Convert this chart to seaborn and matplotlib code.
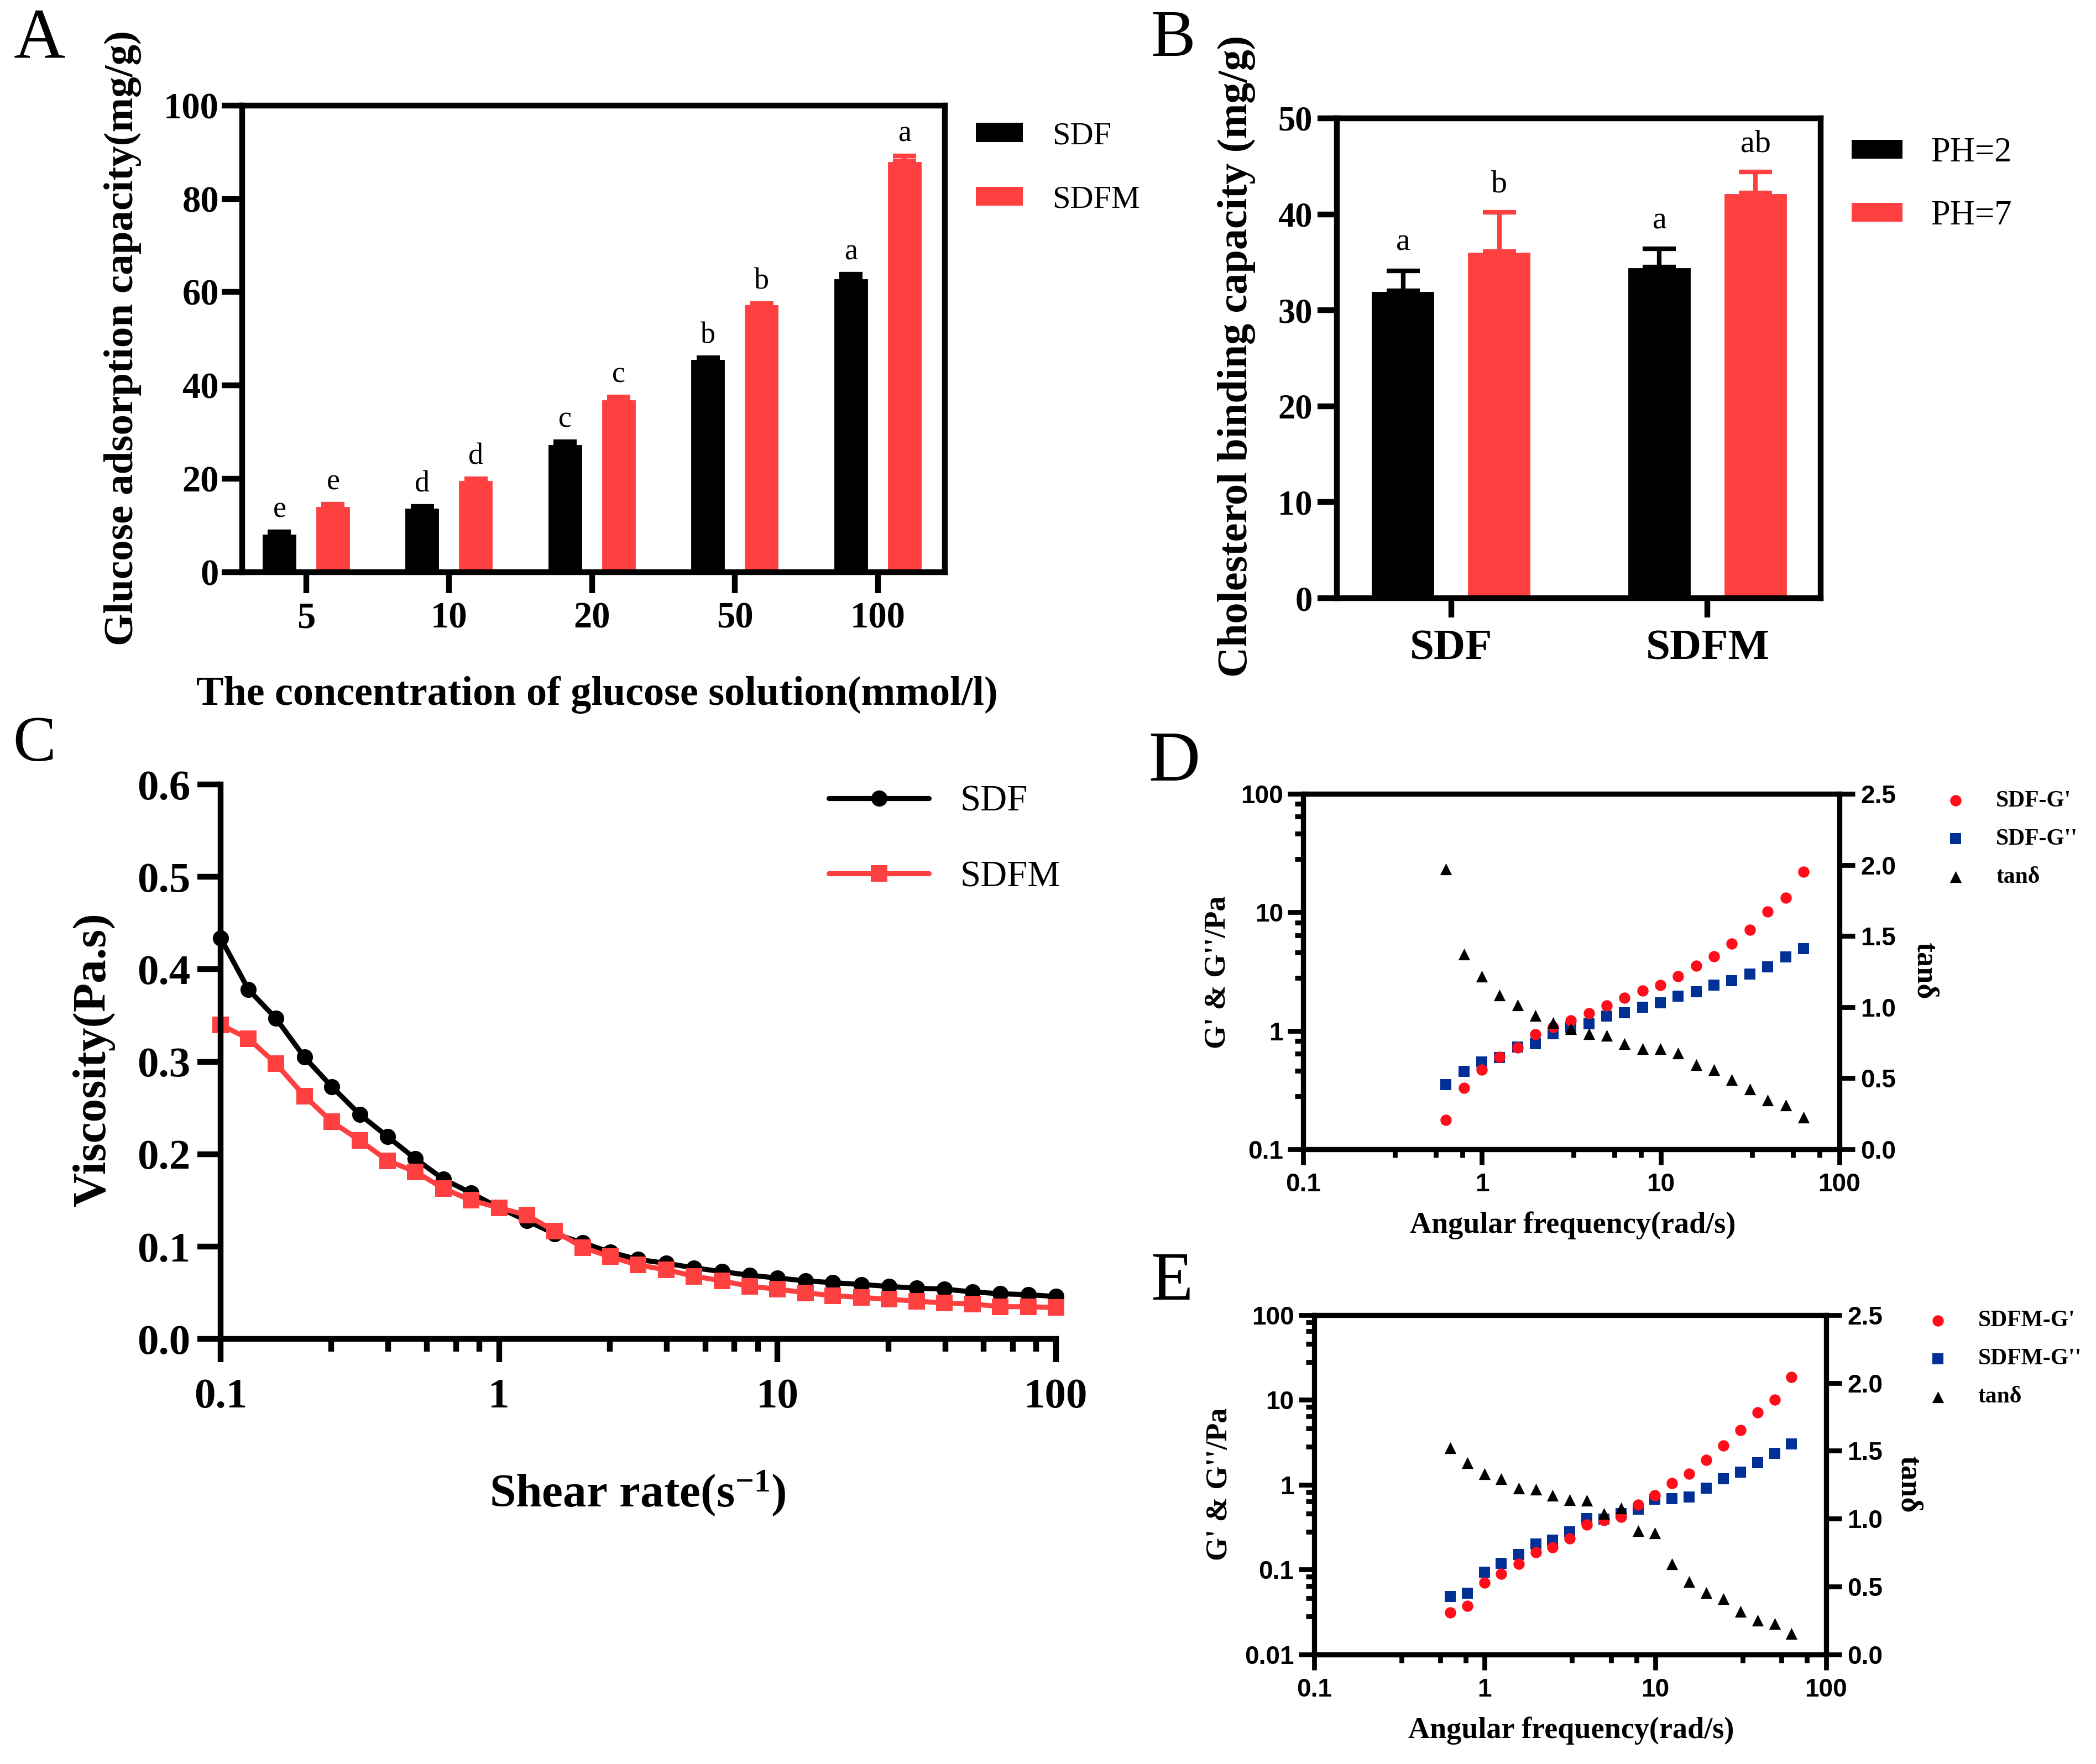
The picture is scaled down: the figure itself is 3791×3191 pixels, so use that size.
import matplotlib
matplotlib.use("Agg")
import matplotlib.pyplot as plt
import numpy as np
import pandas as pd
import seaborn as sns
from matplotlib.patches import Patch
from matplotlib.ticker import NullFormatter

# ---------------- data ----------------
conc_labels = ["5", "10", "20", "50", "100"]
glu_sdf = [8.3, 13.8, 27.5, 45.7, 63.0]
glu_sdf_err = [0.3, 0.3, 0.4, 0.2, 0.8]
glu_sdfm = [14.2, 19.8, 37.0, 57.4, 88.2]
glu_sdfm_err = [0.3, 0.2, 0.5, 0.2, 1.0]
glu_sdf_sig = ["e", "d", "c", "b", "a"]
glu_sdfm_sig = ["e", "d", "c", "b", "a"]

chol_groups = ["SDF", "SDFM"]
chol_ph2 = [32.0, 34.5]
chol_ph2_err = [2.1, 1.9]
chol_ph7 = [36.1, 42.2]
chol_ph7_err = [4.1, 2.2]
chol_ph2_sig = ["a", "a"]
chol_ph7_sig = ["b", "ab"]

shear_rate = [0.1, 0.126, 0.158, 0.2, 0.251, 0.316, 0.398, 0.501, 0.631, 0.794,
              1.0, 1.26, 1.58, 2.0, 2.51, 3.16, 3.98, 5.01, 6.31, 7.94,
              10.0, 12.6, 15.8, 20.0, 25.1, 31.6, 39.8, 50.1, 63.1, 79.4, 100.0]
visc_sdf = [0.434, 0.378, 0.347, 0.305, 0.273, 0.243, 0.219, 0.195, 0.173, 0.158,
            0.142, 0.128, 0.114, 0.104, 0.094, 0.086, 0.082, 0.077, 0.073, 0.069,
            0.066, 0.063, 0.061, 0.059, 0.057, 0.055, 0.054, 0.051, 0.049, 0.048, 0.046]
visc_sdfm = [0.340, 0.325, 0.298, 0.263, 0.235, 0.215, 0.193, 0.181, 0.163, 0.150,
             0.142, 0.134, 0.117, 0.099, 0.089, 0.080, 0.075, 0.068, 0.063, 0.057,
             0.054, 0.050, 0.047, 0.045, 0.043, 0.041, 0.039, 0.038, 0.035, 0.035, 0.034]

freq = [0.628, 0.791, 0.996, 1.25, 1.58, 1.99, 2.50, 3.15, 3.97, 5.00, 6.28,
        7.91, 9.96, 12.5, 15.8, 19.9, 25.0, 31.5, 39.7, 50.0, 62.8]
sdf_g1 = [0.177, 0.33, 0.469, 0.60, 0.72, 0.93, 1.07, 1.22, 1.41, 1.63, 1.90,
          2.18, 2.44, 2.87, 3.53, 4.27, 5.43, 7.14, 10.1, 13.3, 21.9]
sdf_g2 = [0.352, 0.456, 0.544, 0.596, 0.73, 0.78, 0.946, 1.06, 1.15, 1.33, 1.42,
          1.58, 1.72, 1.96, 2.14, 2.44, 2.64, 3.02, 3.48, 4.18, 4.96]
sdf_tan = [1.97, 1.373, 1.215, 1.085, 1.014, 0.939, 0.889, 0.849, 0.814, 0.802, 0.743,
           0.708, 0.708, 0.677, 0.594, 0.559, 0.488, 0.425, 0.347, 0.311, 0.224]
sdfm_g1 = [0.031, 0.0375, 0.0697, 0.0896, 0.117, 0.161, 0.184, 0.232, 0.339, 0.384, 0.42,
           0.58, 0.746, 1.05, 1.34, 1.97, 2.87, 4.39, 7.13, 10.1, 18.6]
sdfm_g2 = [0.048, 0.053, 0.093, 0.118, 0.151, 0.201, 0.222, 0.278, 0.398, 0.391, 0.459,
           0.512, 0.67, 0.689, 0.714, 0.91, 1.18, 1.41, 1.82, 2.36, 3.04]
sdfm_tan = [1.52, 1.41, 1.33, 1.295, 1.224, 1.215, 1.171, 1.141, 1.134, 1.039, 1.08,
            0.91, 0.893, 0.666, 0.537, 0.454, 0.41, 0.317, 0.251, 0.227, 0.154]

# ---------------- style ----------------
BLACK = "#000000"
RED_BAR = "#FF4040"
RED_PT = "#FF0D1A"
BLUE_PT = "#002F96"
SERIF = ["Liberation Serif", "DejaVu Serif"]
SANS = "Liberation Sans"

sns.set_theme(style="ticks")
plt.rcParams["font.family"] = SERIF
plt.rcParams["font.serif"] = SERIF
plt.rcParams["font.weight"] = "bold"
plt.rcParams["axes.labelweight"] = "bold"
plt.rcParams["mathtext.default"] = "regular"
plt.rcParams["axes.edgecolor"] = "black"
plt.rcParams["xtick.color"] = "black"
plt.rcParams["ytick.color"] = "black"
plt.rcParams["text.color"] = "black"

W, H, DPI = 3791, 3191, 300
fig = plt.figure(figsize=(W / DPI, H / DPI), dpi=DPI)
fig.patch.set_facecolor("white")


def rect(x0, y0, x1, y1):
    # thumbnail coordinates (1568 x 1320) -> figure fraction
    return [x0 / 1568, 1 - y1 / 1320, (x1 - x0) / 1568, (y1 - y0) / 1320]


def spines(ax, lw, visible=("left", "bottom", "top", "right")):
    for name, s in ax.spines.items():
        s.set_visible(name in visible)
        s.set_linewidth(lw)
        s.set_color("black")


NORMAL = {"family": SERIF, "weight": "normal"}

# ---------------- Panel A ----------------
axA = fig.add_axes(rect(181, 79, 707, 428))
dfA = pd.DataFrame({"conc": conc_labels * 2,
                    "value": glu_sdf + glu_sdfm,
                    "sample": ["SDF"] * 5 + ["SDFM"] * 5})
sns.barplot(data=dfA, x="conc", y="value", hue="sample", order=conc_labels,
            hue_order=["SDF", "SDFM"], palette=[BLACK, RED_BAR], width=0.75, gap=0.33,
            errorbar=None, saturation=1, legend=False, ax=axA, zorder=2)
barsA = sorted(axA.patches, key=lambda p: p.get_x())
valsA = [glu_sdf, glu_sdfm]
errsA = [glu_sdf_err, glu_sdfm_err]
sigsA = [glu_sdf_sig, glu_sdfm_sig]
colsA = [BLACK, RED_BAR]
for i, p in enumerate(barsA):
    k, s = i // 2, i % 2
    cx = p.get_x() + p.get_width() / 2
    v, e = valsA[s][k], errsA[s][k]
    axA.errorbar(cx, v, yerr=[[0], [e]], fmt="none", ecolor=colsA[s], elinewidth=2,
                 capsize=5, capthick=2, zorder=3)
    axA.annotate(sigsA[s][k], (cx, v + e), xytext=(0, 3.5), textcoords="offset points",
                 ha="center", va="bottom", fontsize=13, **NORMAL)
axA.set_xlim(-0.45, 4.47)
axA.set_ylim(0, 100)
axA.set_yticks(range(0, 101, 20))
axA.set_xlabel("")
axA.set_ylabel("")
spines(axA, 2.5)
axA.tick_params(axis="both", direction="out", length=9, width=2.5, labelsize=16)
axA.tick_params(axis="x", pad=4)
axA.tick_params(axis="y", pad=1)
axA.legend(handles=[Patch(facecolor=BLACK, edgecolor="none"),
                    Patch(facecolor=RED_BAR, edgecolor="none")],
           labels=["SDF", "SDFM"], loc="upper left", bbox_to_anchor=(0.4656, 0.931),
           bbox_transform=fig.transFigure, frameon=False,
           prop={"family": SERIF, "size": 14, "weight": "normal"},
           handlelength=1.46, handleheight=0.53, handletextpad=0.91, labelspacing=1.09,
           borderpad=0, borderaxespad=0)
fig.text(0.0586, 0.8082, "Glucose adsorption capacity(mg/g)", rotation=90,
         ha="center", va="center", fontsize=18, weight="bold")
fig.text(0.2849, 0.6004, "The concentration of glucose solution(mmol/l)",
         ha="center", va="baseline", fontsize=17.8, weight="bold")

# ---------------- Panel B ----------------
axB = fig.add_axes(rect(1000, 88.5, 1362, 447.6))
dfB = pd.DataFrame({"group": chol_groups * 2,
                    "value": chol_ph2 + chol_ph7,
                    "ph": ["PH=2"] * 2 + ["PH=7"] * 2})
sns.barplot(data=dfB, x="group", y="value", hue="ph", order=chol_groups,
            hue_order=["PH=2", "PH=7"], palette=[BLACK, RED_BAR], width=0.75, gap=0.33,
            errorbar=None, saturation=1, legend=False, ax=axB, zorder=2)
barsB = sorted(axB.patches, key=lambda p: p.get_x())
valsB = [chol_ph2, chol_ph7]
errsB = [chol_ph2_err, chol_ph7_err]
sigsB = [chol_ph2_sig, chol_ph7_sig]
for i, p in enumerate(barsB):
    k, s = i // 2, i % 2
    cx = p.get_x() + p.get_width() / 2
    v, e = valsB[s][k], errsB[s][k]
    axB.errorbar(cx, v, yerr=[[0], [e]], fmt="none", ecolor=colsA[s], elinewidth=2,
                 capsize=7.3, capthick=2, zorder=3)
    axB.annotate(sigsB[s][k], (cx, v + e), xytext=(0, 6), textcoords="offset points",
                 ha="center", va="bottom", fontsize=14, **NORMAL)
axB.set_xlim(-0.446, 1.441)
axB.set_ylim(0, 50)
axB.set_yticks(range(0, 51, 10))
axB.set_xlabel("")
axB.set_ylabel("")
spines(axB, 2.5)
axB.tick_params(axis="both", direction="out", length=8.5, width=2.5)
axB.tick_params(axis="x", pad=5, labelsize=19)
axB.tick_params(axis="y", pad=2, labelsize=15)
axB.legend(handles=[Patch(facecolor=BLACK, edgecolor="none"),
                    Patch(facecolor=RED_BAR, edgecolor="none")],
           labels=["PH=2", "PH=7"], loc="upper left", bbox_to_anchor=(0.8834, 0.9223),
           bbox_transform=fig.transFigure, frameon=False,
           prop={"family": SERIF, "size": 15, "weight": "normal"},
           handlelength=1.47, handleheight=0.47, handletextpad=0.83, labelspacing=0.9,
           borderpad=0, borderaxespad=0)
fig.text(0.5898, 0.7982, "Cholesterol binding capacity (mg/g)", rotation=90,
         ha="center", va="center", fontsize=18.3, weight="bold")

# ---------------- Panel C ----------------
axC = fig.add_axes(rect(165, 587, 790, 1002))
dfC = pd.DataFrame({"rate": shear_rate * 2,
                    "visc": visc_sdf + visc_sdfm,
                    "sample": ["SDF"] * len(shear_rate) + ["SDFM"] * len(shear_rate)})
sns.lineplot(data=dfC, x="rate", y="visc", hue="sample", style="sample",
             hue_order=["SDF", "SDFM"], style_order=["SDF", "SDFM"],
             palette=[BLACK, RED_BAR], markers={"SDF": "o", "SDFM": "s"}, dashes=False,
             linewidth=2.2, markersize=7, markeredgewidth=0, legend=False, ax=axC)
for ln in axC.lines:
    ln.set_clip_on(False)
axC.set_xscale("log")
axC.set_xlim(0.1, 100)
axC.set_ylim(0, 0.6)
axC.set_yticks([0, 0.1, 0.2, 0.3, 0.4, 0.5, 0.6],
               labels=["0.0", "0.1", "0.2", "0.3", "0.4", "0.5", "0.6"])
axC.set_xticks([0.1, 1, 10, 100], labels=["0.1", "1", "10", "100"])
axC.set_xticks([0.25, 0.4, 0.55, 0.7, 0.85, 2.5, 4, 5.5, 7, 8.5,
                25, 40, 55, 70, 85], minor=True)
axC.xaxis.set_minor_formatter(NullFormatter())
axC.set_xlabel("")
axC.set_ylabel("")
spines(axC, 2.5, visible=("left", "bottom"))
axC.tick_params(axis="both", which="major", direction="out", length=10, width=2.5,
                labelsize=18.5)
axC.tick_params(axis="x", which="minor", direction="out", length=5.5, width=2.5)
axC.tick_params(axis="x", which="major", pad=7)
axC.tick_params(axis="y", pad=3)
axC.legend(handles=axC.lines[:2], labels=["SDF", "SDFM"], loc="upper left",
           bbox_to_anchor=(0.3954, 0.555), bbox_transform=fig.transFigure,
           frameon=False, prop={"family": SERIF, "size": 16, "weight": "normal"},
           handlelength=2.72, handletextpad=0.84, labelspacing=1.13, numpoints=1,
           borderpad=0, borderaxespad=0)
fig.text(0.0448, 0.3995, "Viscosity(Pa.s)", rotation=90, ha="center", va="center",
         fontsize=20.5, weight="bold")
fig.text(0.3043, 0.1460, "Shear rate(s$^{-1}$)", ha="center", va="baseline",
         fontsize=20.5, weight="bold")


# ---------------- Panels D and E ----------------
def rheo_panel(box, g1, g2, tan, names, ymin, yticks, ylabels, leg_anchor, ylab_pos,
               tan_pos, xlab_pos):
    ax = fig.add_axes(rect(*box))
    sns.scatterplot(x=freq, y=g2, marker="s", color=BLUE_PT, s=22, linewidth=0,
                    ax=ax, label=names[1], zorder=3)
    sns.scatterplot(x=freq, y=g1, marker="o", color=RED_PT, s=24, linewidth=0,
                    ax=ax, label=names[0], zorder=4)
    ax.set_xscale("log")
    ax.set_yscale("log")
    ax.set_xlim(0.1, 100)
    ax.set_ylim(ymin, 100)
    ax.set_xticks([0.1, 1, 10, 100], labels=["0.1", "1", "10", "100"])
    ax.set_xticks([0.325, 0.55, 0.775, 3.25, 5.5, 7.75, 32.5, 55, 77.5], minor=True)
    ax.set_yticks(yticks, labels=ylabels)
    yminor = [m for m in [0.028, 0.046, 0.064, 0.082, 0.28, 0.46, 0.64, 0.82,
                          2.8, 4.6, 6.4, 8.2, 28, 46, 64, 82] if m > ymin]
    ax.set_yticks(yminor, minor=True)
    ax.xaxis.set_minor_formatter(NullFormatter())
    ax.yaxis.set_minor_formatter(NullFormatter())
    ax.set_xlabel("")
    ax.set_ylabel("")
    spines(ax, 2.2)
    ax.tick_params(axis="both", which="major", direction="out", length=6.7, width=2.1,
                   labelsize=11, labelfontfamily=SANS)
    ax.tick_params(axis="both", which="minor", direction="out", length=3.5, width=2.1)
    ax.tick_params(axis="x", which="major", pad=3.5)
    ax.tick_params(axis="y", which="major", pad=2)
    ax.tick_params(top=False, right=False, which="both")
    if ax.get_legend() is not None:
        ax.get_legend().remove()

    axT = ax.twinx()
    sns.scatterplot(x=freq, y=tan, marker="^", color=BLACK, s=26, linewidth=0,
                    ax=axT, label=names[2], zorder=5)
    axT.set_ylim(0, 2.5)
    axT.set_yticks([0, 0.5, 1.0, 1.5, 2.0, 2.5],
                   labels=["0.0", "0.5", "1.0", "1.5", "2.0", "2.5"])
    axT.set_ylabel("")
    spines(axT, 2.2)
    axT.tick_params(axis="y", which="major", direction="out", length=6.7, width=2.1,
                    labelsize=11, labelfontfamily=SANS, pad=2.5)
    if axT.get_legend() is not None:
        axT.get_legend().remove()

    h1, l1 = ax.get_legend_handles_labels()
    h2, l2 = axT.get_legend_handles_labels()
    hd = dict(zip(l1 + l2, h1 + h2))
    axT.legend([hd[n] for n in names], names, loc="upper left", bbox_to_anchor=leg_anchor,
               bbox_transform=fig.transFigure, frameon=False,
               prop={"family": SERIF, "size": 10, "weight": "bold"},
               handlelength=1.5, handletextpad=1.0, labelspacing=0.74, markerscale=1.0,
               borderpad=0, borderaxespad=0)
    fig.text(ylab_pos[0], ylab_pos[1], "G' & G''/Pa", rotation=90, ha="center",
             va="center", fontsize=13, weight="bold")
    fig.text(tan_pos[0], tan_pos[1], "tanδ", rotation=270, ha="center", va="center",
             fontsize=13, weight="bold")
    fig.text(xlab_pos[0], xlab_pos[1], "Angular frequency(rad/s)", ha="center",
             va="baseline", fontsize=13, weight="bold")
    return ax, axT


rheo_panel((975, 594, 1376, 860), sdf_g1, sdf_g2, sdf_tan,
           ["SDF-G'", "SDF-G''", "tanδ"], 0.1, [0.1, 1, 10, 100],
           ["0.1", "1", "10", "100"], (0.9248, 0.552), (0.5811, 0.4488),
           (0.918, 0.4497), (0.7505, 0.3012))
rheo_panel((983, 984, 1366, 1238), sdfm_g1, sdfm_g2, sdfm_tan,
           ["SDFM-G'", "SDFM-G''", "tanδ"], 0.01, [0.01, 0.1, 1, 10, 100],
           ["0.01", "0.1", "1", "10", "100"], (0.9163, 0.2572), (0.5818, 0.1586),
           (0.9105, 0.1586), (0.7495, 0.0147))

# ---------------- panel letters ----------------
for letter, x, y, fs in [("A", 0.0064, 0.9674, 31), ("B", 0.549, 0.9683, 29),
                         ("C", 0.0062, 0.5688, 28), ("D", 0.548, 0.5575, 31),
                         ("E", 0.549, 0.2632, 30)]:
    fig.text(x, y, letter, ha="left", va="baseline", fontsize=fs, weight="normal")

fig.savefig("out.png", dpi=DPI, facecolor="white")
